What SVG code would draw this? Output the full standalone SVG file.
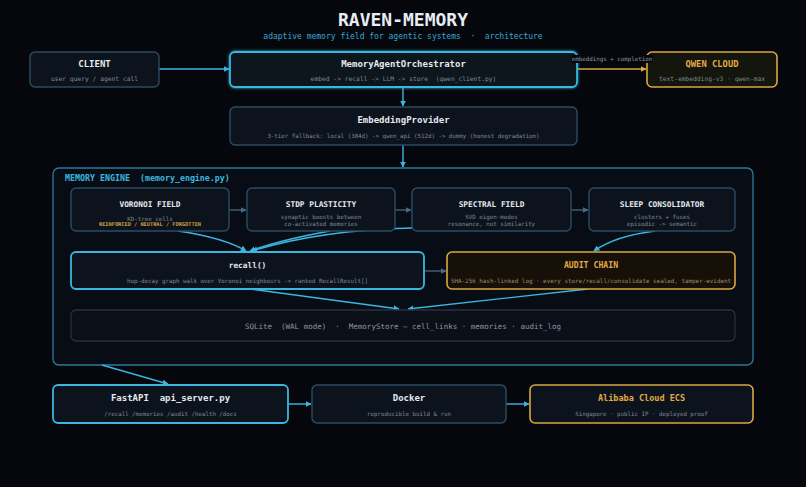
<svg xmlns="http://www.w3.org/2000/svg" width="806" height="487" viewBox="0 0 806 487">
  <defs>
    <marker id="arrCyan" viewBox="0 0 10 10" refX="9" refY="5" markerWidth="6" markerHeight="6" orient="auto" markerUnits="userSpaceOnUse">
      <path d="M0,0 L10,5 L0,10 z" fill="#3bb6df"/>
    </marker>
    <marker id="arrGold" viewBox="0 0 10 10" refX="9" refY="5" markerWidth="6" markerHeight="6" orient="auto" markerUnits="userSpaceOnUse">
      <path d="M0,0 L10,5 L0,10 z" fill="#d8a843"/>
    </marker>
    <marker id="arrGray" viewBox="0 0 10 10" refX="9" refY="5" markerWidth="6" markerHeight="6" orient="auto" markerUnits="userSpaceOnUse">
      <path d="M0,0 L10,5 L0,10 z" fill="#4b6a80"/>
    </marker>
    <filter id="glow" x="-10%" y="-30%" width="120%" height="160%">
      <feGaussianBlur stdDeviation="1.6" result="b"/>
      <feMerge><feMergeNode in="b"/><feMergeNode in="SourceGraphic"/></feMerge>
    </filter>
  </defs>
  <style>
    text { font-family: "DejaVu Sans Mono", "Liberation Mono", monospace; text-anchor: middle; }
    .box { fill: #0d131d; stroke: #2a4c63; stroke-width: 1.4; }
    .hot { fill: #0d131d; stroke: #3bb6df; stroke-width: 1.8; }
    .gold { stroke: #d8a843; stroke-width: 1.6; }
    .dim { fill: #0b1018; stroke: #26323f; stroke-width: 1.3; }
    .engine { fill: #080d15; stroke: #2a7a9c; stroke-width: 1.3; }
    .t { fill: #e4eaf0; font-weight: bold; font-size: 9px; }
    .ts { fill: #e4eaf0; font-weight: bold; font-size: 7.8px; }
    .tg { fill: #e2aa45; font-weight: bold; }
    .s { fill: #7d8995; font-size: 6.3px; }
    .ss { fill: #7d8995; font-size: 5.8px; }
    .c { fill: none; stroke: #3bb6df; stroke-width: 1.4; }
    .cg { fill: none; stroke: #4b6a80; stroke-width: 1.3; }
  </style>

  <rect width="806" height="487" fill="#05070d"/>

  <!-- heading -->
  <text x="403" y="26" fill="#e6edf3" font-size="18" font-weight="bold">RAVEN-MEMORY</text>
  <text x="403" y="39" fill="#3aa8cf" font-size="8" xml:space="preserve">adaptive memory field for agentic systems  ·  architecture</text>

  <!-- memory engine container (drawn first so connectors sit on top) -->
  <g id="memory-engine">
    <rect class="engine" x="53" y="168" width="700" height="197" rx="6"/>
    <text x="65" y="181" fill="#3bb6df" font-size="8.3" font-weight="bold" style="text-anchor:start" xml:space="preserve">MEMORY ENGINE  (memory_engine.py)</text>
  </g>

  <!-- connectors -->
  <g id="connectors">
    <line class="c" x1="159" y1="69" x2="229" y2="69" marker-end="url(#arrCyan)"/>
    <line x1="577" y1="69" x2="646" y2="69" stroke="#d8a843" stroke-width="1.4" marker-end="url(#arrGold)"/>
    <line class="c" x1="403" y1="87" x2="403" y2="106" marker-end="url(#arrCyan)"/>
    <line class="c" x1="403" y1="145" x2="403" y2="167" marker-end="url(#arrCyan)"/>

    <line class="cg" x1="229" y1="210" x2="246" y2="210" marker-end="url(#arrGray)"/>
    <line class="cg" x1="395" y1="210" x2="411" y2="210" marker-end="url(#arrGray)"/>
    <line class="cg" x1="571" y1="210" x2="588" y2="210" marker-end="url(#arrGray)"/>

    <path class="c" d="M178,231 Q225,238 246,251" marker-end="url(#arrCyan)"/>
    <path class="c" d="M330,231 Q280,240 250,251" marker-end="url(#arrCyan)"/>
    <path class="c" d="M412,228 Q320,230 252,251" marker-end="url(#arrCyan)"/>
    <path class="c" d="M655,231 Q615,236 594,251" marker-end="url(#arrCyan)"/>

    <line class="cg" x1="424" y1="271" x2="446" y2="271" marker-end="url(#arrGray)"/>

    <line class="c" x1="250" y1="289" x2="399" y2="309" marker-end="url(#arrCyan)"/>
    <line class="c" x1="588" y1="289" x2="408" y2="309" marker-end="url(#arrCyan)"/>

    <line class="c" x1="102" y1="365" x2="168" y2="384" marker-end="url(#arrCyan)"/>
    <line class="c" x1="288" y1="404" x2="311" y2="404" marker-end="url(#arrCyan)"/>
    <line class="c" x1="506" y1="404" x2="529" y2="404" marker-end="url(#arrCyan)"/>
  </g>

  <!-- top row -->
  <g id="client">
    <rect class="box" x="30" y="52" width="129" height="35" rx="5"/>
    <text class="t" x="94.5" y="67">CLIENT</text>
    <text class="s" x="94.5" y="81">user query / agent call</text>
  </g>
  <g id="orchestrator">
    <rect class="hot" x="230" y="52" width="347" height="35" rx="5" filter="url(#glow)"/>
    <text class="t" x="403.5" y="67">MemoryAgentOrchestrator</text>
    <text class="s" x="403.5" y="81" xml:space="preserve">embed -&gt; recall -&gt; LLM -&gt; store  (qwen_client.py)</text>
  </g>
  <g id="qwen-cloud">
    <rect class="gold" fill="#14150c" x="647" y="52" width="130" height="35" rx="5"/>
    <text class="tg" x="712" y="67" font-size="8.8">QWEN CLOUD</text>
    <text class="s" x="712" y="81">text-embedding-v3 · qwen-max</text>
  </g>

  <!-- edge label sits above both boxes it touches -->
  <g id="label-embeddings">
    <rect x="571" y="55" width="82" height="8" rx="1.5" fill="#05070d"/>
    <text x="612" y="61" fill="#8b96a1" font-size="5.8">embeddings + completion</text>
  </g>

  <g id="embedding-provider">
    <rect class="box" x="230" y="107" width="347" height="38" rx="5"/>
    <text class="t" x="403.5" y="123">EmbeddingProvider</text>
    <text class="ss" x="403.5" y="138" font-size="6">3-tier fallback: local (384d) -&gt; qwen_api (512d) -&gt; dummy (honest degradation)</text>
  </g>

  <!-- engine stages -->
  <g id="voronoi-field">
    <rect class="box" x="71" y="188" width="158" height="43" rx="5"/>
    <text class="ts" x="150" y="207">VORONOI FIELD</text>
    <text class="ss" x="150" y="221">KD-tree cells</text>
    <text x="150" y="226" fill="#d2a042" font-size="5.3" font-weight="bold">REINFORCED / NEUTRAL / FORGOTTEN</text>
  </g>
  <g id="stdp-plasticity">
    <rect class="box" x="247" y="188" width="148" height="43" rx="5"/>
    <text class="ts" x="321" y="207">STDP PLASTICITY</text>
    <text class="ss" x="321" y="219">synaptic boosts between</text>
    <text class="ss" x="321" y="225.5">co-activated memories</text>
  </g>
  <g id="spectral-field">
    <rect class="box" x="412" y="188" width="159" height="43" rx="5"/>
    <text class="ts" x="491.5" y="207">SPECTRAL FIELD</text>
    <text class="ss" x="491.5" y="219">SVD eigen-modes</text>
    <text class="ss" x="491.5" y="225.5">resonance, not similarity</text>
  </g>
  <g id="sleep-consolidator">
    <rect class="box" x="589" y="188" width="146" height="43" rx="5"/>
    <text class="ts" x="662" y="207">SLEEP CONSOLIDATOR</text>
    <text class="ss" x="662" y="219">clusters + fuses</text>
    <text class="ss" x="662" y="225.5">episodic -&gt; semantic</text>
  </g>

  <g id="recall">
    <rect class="hot" x="71" y="252" width="353" height="37" rx="5"/>
    <text class="ts" x="247.5" y="268" font-size="8.2">recall()</text>
    <text class="ss" x="247.5" y="283" font-size="6">hop-decay graph walk over Voronoi neighbours -&gt; ranked RecallResult[]</text>
  </g>
  <g id="audit-chain">
    <rect class="gold" fill="#161008" x="447" y="252" width="288" height="37" rx="5"/>
    <text class="tg" x="591" y="268" font-size="8.2">AUDIT CHAIN</text>
    <text x="591" y="283" fill="#a08a66" font-size="5.9">SHA-256 hash-linked log · every store/recall/consolidate sealed, tamper-evident</text>
  </g>

  <g id="sqlite-store">
    <rect class="dim" x="71" y="310" width="664" height="31" rx="5"/>
    <text x="403" y="328.5" fill="#8a96a3" font-size="7.5" xml:space="preserve">SQLite  (WAL mode)  ·  MemoryStore — cell_links · memories · audit_log</text>
  </g>

  <!-- deployment row -->
  <g id="fastapi">
    <rect class="hot" x="53" y="385" width="235" height="38" rx="5"/>
    <text class="t" x="170.5" y="401" font-size="8.5" xml:space="preserve">FastAPI  api_server.py</text>
    <text class="ss" x="170.5" y="416" font-size="6">/recall /memories /audit /health /docs</text>
  </g>
  <g id="docker">
    <rect class="box" x="312" y="385" width="194" height="38" rx="5"/>
    <text class="t" x="409" y="401" font-size="8.5">Docker</text>
    <text class="ss" x="409" y="416" font-size="6">reproducible build &amp; run</text>
  </g>
  <g id="alibaba-ecs">
    <rect class="gold" fill="#0d131d" x="530" y="385" width="223" height="38" rx="5"/>
    <text class="tg" x="641.5" y="401" font-size="8.5">Alibaba Cloud ECS</text>
    <text class="ss" x="641.5" y="416" font-size="6">Singapore · public IP · deployed proof</text>
  </g>
</svg>
